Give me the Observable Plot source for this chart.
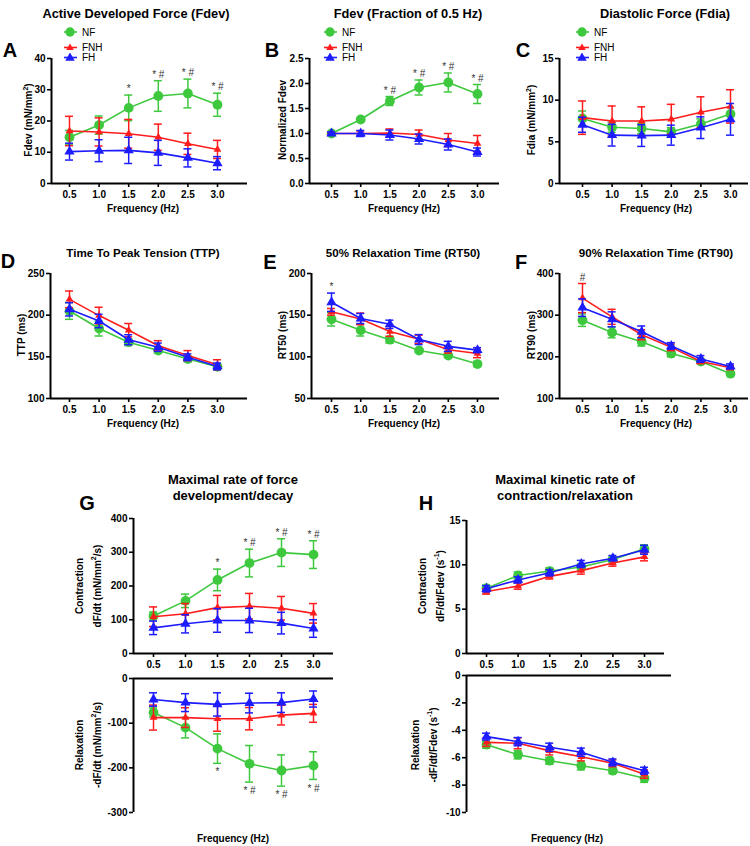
<!DOCTYPE html>
<html><head><meta charset="utf-8">
<script src="https://cdn.jsdelivr.net/npm/d3@7"></script>
<script src="https://cdn.jsdelivr.net/npm/@observablehq/plot@0.6"></script>
<style>
body{margin:0;background:#fff;}
#chart{position:relative;width:750px;height:846px;font-family:"Liberation Sans",Arial,sans-serif;font-weight:bold;color:#000;overflow:hidden;background:#fff}
#chart svg.plot, #chart > svg{position:absolute;left:0;top:0;}
.t{position:absolute;white-space:nowrap;transform:translate(-50%,-50%);text-align:center;}
.r{transform:translate(-50%,-50%) rotate(-90deg);}
</style></head><body><div id="chart"></div><script>
// ---------------- data ----------------
const freq = [0.5, 1.0, 1.5, 2.0, 2.5, 3.0];
const groups = ["NF", "FNH", "FH"];
const colors = ["#3ec83e", "#ff1c1c", "#1c1cff"];

// A: Active developed force (mN/mm2)
const fdevNF = [14.8, 18.7, 24.2, 28.0, 28.8, 25.2];
const fdevNFsem = [2.2, 2.9, 4.1, 4.9, 4.6, 3.7];
const fdevFNH = [16.8, 16.5, 15.9, 14.8, 12.7, 10.9];
const fdevFNHsem = [4.7, 4.5, 4.6, 4.2, 3.4, 2.9];
const fdevFH = [10.2, 10.5, 10.6, 9.8, 8.2, 6.5];
const fdevFHsem = [2.7, 3.5, 4.2, 4.0, 2.9, 2.1];
const fdevSig = ["", "", "*", "* #", "* #", "* #"];

// B: normalized Fdev
const normNF = [1.0, 1.28, 1.65, 1.92, 2.02, 1.79];
const normNFsem = [0.02, 0.03, 0.09, 0.15, 0.19, 0.19];
const normFNH = [1.0, 1.0, 1.01, 0.98, 0.87, 0.80];
const normFNHsem = [0.02, 0.05, 0.08, 0.09, 0.13, 0.16];
const normFH = [1.0, 1.0, 0.97, 0.89, 0.78, 0.63];
const normFHsem = [0.03, 0.06, 0.10, 0.10, 0.11, 0.08];
const normSig = ["", "", "* #", "* #", "* #", "* #"];

// C: diastolic force
const fdiaNF = [7.8, 6.75, 6.6, 6.2, 7.15, 8.35];
const fdiaNFsem = [0.9, 0.6, 0.6, 0.5, 0.6, 0.8];
const fdiaFNH = [7.9, 7.5, 7.5, 7.7, 8.55, 9.25];
const fdiaFNHsem = [2.0, 1.8, 1.7, 1.8, 1.85, 2.0];
const fdiaFH = [7.05, 5.8, 5.75, 5.8, 6.7, 7.7];
const fdiaFHsem = [0.9, 1.3, 1.3, 1.2, 1.3, 1.9];

// D: TTP (ms)
const ttpNF = [205, 184, 167.6, 157.5, 147.4, 138];
const ttpNFsem = [10, 9, 4, 3, 3, 3];
const ttpFNH = [219, 199.5, 182, 163.4, 151.5, 140.5];
const ttpFNHsem = [10, 10, 8, 6, 6, 6];
const ttpFH = [207, 193, 170.5, 161.5, 149.5, 138.5];
const ttpFHsem = [8, 8, 6, 5, 4, 4];

// E: RT50 (ms)
const rt50NF = [145, 132, 120.6, 107.6, 101.5, 91.3];
const rt50NFsem = [8, 7, 4, 2, 2, 3];
const rt50FNH = [154, 145.5, 130.5, 121, 108.5, 104];
const rt50FNHsem = [4, 7, 6, 5, 4, 5];
const rt50FH = [165.5, 146, 139, 120.7, 112.6, 108];
const rt50FHsem = [11, 6, 5, 6, 6, 3];
const rt50Sig = ["*", "", "", "", "", ""];

// F: RT90 (ms)
const rt90NF = [288, 258.6, 236, 208, 188.6, 159.5];
const rt90NFsem = [15, 13, 10, 8, 4, 4];
const rt90FNH = [341, 296, 253, 222.7, 188.6, 174];
const rt90FNHsem = [35, 18, 12, 8, 5, 5];
const rt90FH = [318, 290, 260, 226, 195, 177];
const rt90FHsem = [21, 18, 14, 8, 8, 6];
const rt90Sig = ["#", "", "", "", "", ""];

// G: dF/dt (mN/mm2/s)
const dfdtNF = [111, 156, 218, 268, 299, 293];
const dfdtNFsem = [12, 20, 32, 41, 41, 41];
const dfdtFNH = [109, 118, 136, 140, 134, 119];
const dfdtFNHsem = [29, 30, 36, 38, 35, 29];
const dfdtFH = [76, 88, 98, 98, 90, 74];
const dfdtFHsem = [20, 27, 35, 36, 32, 26];
const dfdtSig = ["", "", "*", "* #", "* #", "* #"];
const relNF = [-76, -110, -157, -191, -206, -195];
const relNFsem = [10, 23, 33, 41, 35, 31];
const relFNH = [-87.5, -87.5, -90, -90, -82, -78];
const relFNHsem = [28, 22, 28, 25, 22, 20];
const relFH = [-47, -54, -58, -55, -54, -46];
const relFHsem = [15, 20, 26, 22, 22, 18];
const relSig = ["", "", "*", "* #", "* #", "* #"];

// H: dF/dt/Fdev (1/s)
const kconNF = [7.36, 8.8, 9.3, 9.75, 10.6, 11.8];
const kconNFsem = [0.35, 0.4, 0.35, 0.35, 0.3, 0.45];
const kconFNH = [7.0, 7.6, 8.7, 9.35, 10.2, 10.9];
const kconFNHsem = [0.3, 0.35, 0.3, 0.4, 0.35, 0.45];
const kconFH = [7.3, 8.3, 9.1, 10.1, 10.75, 11.7];
const kconFHsem = [0.35, 0.35, 0.35, 0.4, 0.3, 0.5];
const krelNF = [-5.05, -5.78, -6.22, -6.59, -6.95, -7.5];
const krelNFsem = [0.25, 0.3, 0.25, 0.3, 0.2, 0.3];
const krelFNH = [-4.88, -4.95, -5.5, -5.93, -6.41, -7.2];
const krelFNHsem = [0.3, 0.4, 0.3, 0.3, 0.25, 0.3];
const krelFH = [-4.46, -4.83, -5.24, -5.6, -6.34, -6.95];
const krelFHsem = [0.25, 0.3, 0.3, 0.3, 0.25, 0.25];

// ---------------- layout ----------------
const W = 750, H = 846;
const fmt1 = d => d.toFixed(1);
const fmtI = d => String(d);
const panels = [
  {left:51, right:247, top:58, bottom:183, p05:69, p30:217, y:[0,40], yticks:[0,10,20,30,40], yfmt:fmtI,
   series:[[fdevNF,fdevNFsem],[fdevFNH,fdevFNHsem],[fdevFH,fdevFHsem]], sig:fdevSig, sigGroup:0, xticks:true},
  {left:309, right:499, top:58, bottom:183, p05:331, p30:477, y:[0,2.5], yticks:[0,0.5,1,1.5,2,2.5], yfmt:fmt1,
   series:[[normNF,normNFsem],[normFNH,normFNHsem],[normFH,normFHsem]], sig:normSig, sigGroup:0, xticks:true},
  {left:559, right:748, top:58, bottom:183, p05:582, p30:730, y:[0,15], yticks:[0,5,10,15], yfmt:fmtI,
   series:[[fdiaNF,fdiaNFsem],[fdiaFNH,fdiaFNHsem],[fdiaFH,fdiaFHsem]], xticks:true},
  {left:50, right:247, top:273, bottom:398, p05:69, p30:217, y:[100,250], yticks:[100,150,200,250], yfmt:fmtI,
   series:[[ttpNF,ttpNFsem],[ttpFNH,ttpFNHsem],[ttpFH,ttpFHsem]], xticks:true},
  {left:311, right:499, top:273, bottom:398, p05:331, p30:477, y:[50,200], yticks:[50,100,150,200], yfmt:fmtI,
   series:[[rt50NF,rt50NFsem],[rt50FNH,rt50FNHsem],[rt50FH,rt50FHsem]], sig:rt50Sig, sigGroup:2, xticks:true},
  {left:559, right:748, top:273, bottom:398, p05:582, p30:730, y:[100,400], yticks:[100,200,300,400], yfmt:fmtI,
   series:[[rt90NF,rt90NFsem],[rt90FNH,rt90FNHsem],[rt90FH,rt90FHsem]], sig:rt90Sig, sigGroup:1, xticks:true},
  {left:133, right:333, top:518, bottom:653, p05:153, p30:313, y:[0,400], yticks:[0,100,200,300,400], yfmt:fmtI,
   series:[[dfdtNF,dfdtNFsem],[dfdtFNH,dfdtFNHsem],[dfdtFH,dfdtFHsem]], sig:dfdtSig, sigGroup:0, xticks:true},
  {left:133, right:333, top:678, bottom:812, p05:153, p30:313, y:[-300,0], yticks:[0,-100,-200,-300], yfmt:fmtI,
   series:[[relNF,relNFsem],[relFNH,relFNHsem],[relFH,relFHsem]], sig:relSig, sigGroup:0, below:true, axisTop:true},
  {left:466, right:664, top:520, bottom:653, p05:486, p30:644, y:[0,15], yticks:[0,5,10,15], yfmt:fmtI,
   series:[[kconNF,kconNFsem],[kconFNH,kconFNHsem],[kconFH,kconFHsem]], xticks:true},
  {left:466, right:671, top:675, bottom:812, p05:486, p30:644, y:[-10,0], yticks:[0,-2,-4,-6,-8,-10], yfmt:fmtI,
   series:[[krelNF,krelNFsem],[krelFNH,krelFNHsem],[krelFH,krelFHsem]], axisTop:true},
];
const symbols = ["circle", "triangle", "triangle"];
const radii = [4.9, 2.9, 3.8];

const chart = document.getElementById("chart");

function build(p) {
  const k = (p.p30 - p.p05) / 2.5;
  const xlo = 0.5 - (p.p05 - p.left) / k;
  const xhi = 3.0 + (p.right - p.p30) / k;
  const cap = 4 / k;
  const marks = [];
  p.series.forEach(([m, e], gi) => {
    const rows = freq.map((f, i) => ({f, m: m[i], e: e[i], g: groups[gi]}));
    const c = colors[gi];
    marks.push(
      Plot.ruleX(rows, {x: "f", y1: d => d.m - d.e, y2: d => d.m + d.e, stroke: c, strokeWidth: 1.5}),
      Plot.ruleY(rows, {y: d => d.m + d.e, x1: d => d.f - cap, x2: d => d.f + cap, stroke: c, strokeWidth: 1.5}),
      Plot.ruleY(rows, {y: d => d.m - d.e, x1: d => d.f - cap, x2: d => d.f + cap, stroke: c, strokeWidth: 1.5}),
      Plot.line(rows, {x: "f", y: "m", stroke: c, strokeWidth: 1.6}),
      Plot.dot(rows, {x: "f", y: "m", fill: c, stroke: "none", symbol: symbols[gi], r: radii[gi]})
    );
  });
  if (p.sig) {
    const [m, e] = p.series[p.sigGroup];
    const rows = freq.map((f, i) => ({f, s: p.sig[i], top: m[i] + e[i], bot: m[i] - e[i]})).filter(d => d.s);
    marks.push(Plot.text(rows, {
      x: "f", y: p.below ? "bot" : "top", text: "s",
      lineAnchor: p.below ? "top" : "bottom", dy: p.below ? 5 : -3,
      fontSize: 10, fontWeight: "normal", fill: "#333"
    }));
  }
  marks.push(
    Plot.ruleX([xlo], {stroke: "#000", strokeWidth: 2}),
    Plot.ruleY([p.axisTop ? p.y[1] : p.y[0]], {stroke: "#000", strokeWidth: 2}),
    Plot.axisY({ticks: p.yticks, tickFormat: p.yfmt, tickSize: 4, tickPadding: 2, strokeWidth: 1.6, label: null})
  );
  if (p.xticks) marks.push(Plot.axisX({ticks: freq, tickFormat: fmt1, tickSize: 4, tickPadding: 3, strokeWidth: 1.6, label: null}));
  const svg = Plot.plot({
    width: W, height: H,
    marginLeft: p.left, marginRight: W - p.right, marginTop: p.top, marginBottom: H - p.bottom,
    x: Object.assign({domain: [xlo, xhi]}, p.xticks ? {} : {axis: null}),
    y: {domain: p.y},
    style: {background: "transparent", overflow: "visible", fontFamily: "'Liberation Sans', Arial, sans-serif", fontWeight: "bold", fontSize: "10px", color: "#000"},
    marks
  });
  chart.appendChild(svg);
}
panels.forEach(build);

// ---------------- texts ----------------
function txt(html, x, y, size, cls = "", extra = "") {
  const d = document.createElement("div");
  d.className = "t " + cls;
  d.style.cssText = `left:${x}px;top:${y}px;font-size:${size}px;${extra}`;
  d.innerHTML = html;
  chart.appendChild(d);
}
// titles
txt("Active Developed Force (Fdev)", 136, 13, 12.8);
txt("Fdev (Fraction of 0.5 Hz)", 408, 13, 12.8);
txt("Diastolic Force (Fdia)", 665, 13, 12.8);
txt("Time To Peak Tension (TTP)", 143, 252, 11.6);
txt("50% Relaxation Time (RT50)", 403, 252, 11.6);
txt("90% Relaxation Time (RT90)", 656, 252, 11.6);
txt("Maximal rate of force<br>development/decay", 233, 488, 13, "", "line-height:16px");
txt("Maximal kinetic rate of<br>contraction/relaxation", 565, 488, 13, "", "line-height:16px");
// panel letters
[["A",10,50],["B",272,50],["C",523,50],["D",8,261],["E",270,262],["F",521,262],["G",87,503],["H",426,503]]
  .forEach(([l,x,y]) => txt(l, x, y, 20));
// x-axis titles
[[143,208],[404,208],[656,208],[143,423],[404,423],[656,423],[233,838],[567,838]]
  .forEach(([x,y]) => txt("Frequency (Hz)", x, y, 10));
// y-axis titles
txt("Fdev (mN/mm<sup style='font-size:7px'>2</sup>)", 28, 120, 10, "r");
txt("Normalized Fdev", 282, 120, 10, "r");
txt("Fdia (mN/mm<sup style='font-size:7px'>2</sup>)", 531, 120, 10, "r");
txt("TTP (ms)", 21, 335, 10, "r");
txt("RT50 (ms)", 282, 335, 10, "r");
txt("RT90 (ms)", 531, 335, 10, "r");
txt("Contraction<br>dF/dt (mN/mm<sup style='font-size:7px'>2</sup>/s)", 89, 586, 10, "r", "line-height:14px");
txt("Relaxation<br>-dF/dt (mN/mm<sup style='font-size:7px'>2</sup>/s)", 89, 745, 10, "r", "line-height:14px");
txt("Contraction<br>dF/dt/Fdev (s<sup style='font-size:7px'>-1</sup>)", 432, 586, 10, "r", "line-height:14px");
txt("Relaxation<br>-dF/dt/Fdev (s<sup style='font-size:7px'>-1</sup>)", 425, 745, 10, "r", "line-height:14px");

// legends
function legend(x, y) {
  const ys = [0, 15.5, 25.5];
  let s = `<svg width="60" height="36" style="position:absolute;left:${x - 8}px;top:${y - 6}px;overflow:visible">`;
  groups.forEach((g, i) => {
    const cy = ys[i] + 6, cx = 8;
    s += `<line x1="${cx-6}" x2="${cx+7}" y1="${cy}" y2="${cy}" stroke="${colors[i]}" stroke-width="1.6"/>`;
    if (i === 0) s += `<circle cx="${cx}" cy="${cy}" r="4.7" fill="${colors[i]}"/>`;
    else { const r = i === 1 ? 4 : 5; s += `<path d="M${cx},${cy - r}L${cx + r * 0.95},${cy + r * 0.65}L${cx - r * 0.95},${cy + r * 0.65}Z" fill="${colors[i]}"/>`; }
    s += `<text x="${cx + 12}" y="${cy}" dy="0.35em" font-size="10" font-weight="normal" font-family="'Liberation Sans', Arial, sans-serif">${g}</text>`;
  });
  s += "</svg>";
  const d = document.createElement("div");
  d.innerHTML = s;
  chart.appendChild(d.firstChild);
}
legend(70, 32);
legend(330, 32);
legend(582, 32);
</script></body></html>
